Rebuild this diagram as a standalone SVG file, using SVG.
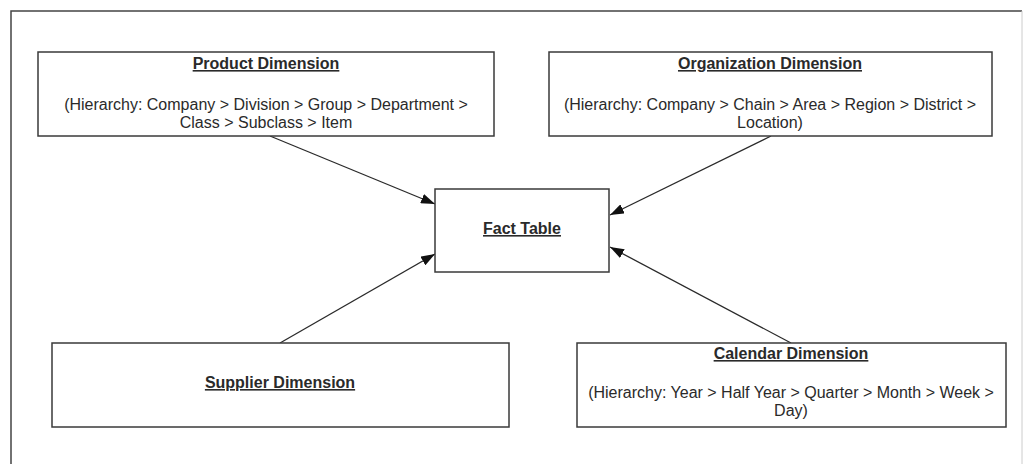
<svg xmlns="http://www.w3.org/2000/svg" width="1026" height="464" viewBox="0 0 1026 464">
<style>
.box{fill:#fff;stroke:#3a3a3a;stroke-width:1.5}
.t{font-family:"Liberation Sans",Arial,sans-serif;font-size:16px;fill:#2a2a2a;text-anchor:middle}
.h{font-weight:bold;text-decoration:underline}
.conn{stroke:#2a2a2a;stroke-width:1.3;fill:none;marker-end:url(#arr)}
</style>
<defs>
<marker id="arr" viewBox="0 0 14 10" refX="14" refY="5" markerWidth="14" markerHeight="10" markerUnits="userSpaceOnUse" orient="auto">
<path d="M0,0 L14,5 L0,10 z" fill="#111"/>
</marker>
</defs>
<rect width="1026" height="464" fill="#fff"/>
<g id="frame">
<path d="M11,470 L11,11 L1022,11" fill="none" stroke="#444" stroke-width="1.5"/>
<path d="M1022,11 L1022,470" fill="none" stroke="#ccc" stroke-width="1"/>
</g>
<g id="connectors">
<line class="conn" x1="270" y1="136" x2="435" y2="204"/>
<line class="conn" x1="771" y1="136" x2="610" y2="215"/>
<line class="conn" x1="280" y1="343" x2="435" y2="254"/>
<line class="conn" x1="791" y1="343" x2="610" y2="247"/>
</g>
<g id="product">
<rect class="box" x="38" y="52" width="456" height="84"/>
<text class="t h" x="266" y="69">Product Dimension</text>
<text class="t" x="266" y="110">(Hierarchy: Company &gt; Division &gt; Group &gt; Department &gt;</text>
<text class="t" x="266" y="128">Class &gt; Subclass &gt; Item</text>
</g>
<g id="organization">
<rect class="box" x="549" y="52" width="443" height="84"/>
<text class="t h" x="770" y="69">Organization Dimension</text>
<text class="t" x="770" y="110">(Hierarchy: Company &gt; Chain &gt; Area &gt; Region &gt; District &gt;</text>
<text class="t" x="770" y="128">Location)</text>
</g>
<g id="fact">
<rect class="box" x="435" y="189" width="174" height="83"/>
<text class="t h" x="522" y="234">Fact Table</text>
</g>
<g id="supplier">
<rect class="box" x="52" y="343" width="457" height="84"/>
<text class="t h" x="280" y="388">Supplier Dimension</text>
</g>
<g id="calendar">
<rect class="box" x="577" y="343" width="429" height="84"/>
<text class="t h" x="791" y="359">Calendar Dimension</text>
<text class="t" x="791" y="398">(Hierarchy: Year &gt; Half Year &gt; Quarter &gt; Month &gt; Week &gt;</text>
<text class="t" x="791" y="416">Day)</text>
</g>
</svg>
